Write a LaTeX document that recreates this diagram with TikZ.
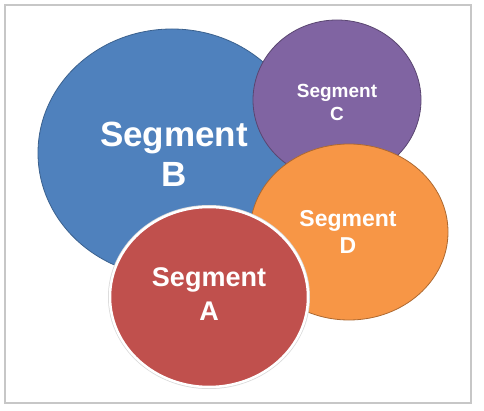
\documentclass[tikz,border=0pt]{standalone}
\usepackage{fontspec}
\setmainfont{Liberation Sans}
\usetikzlibrary{positioning}
\definecolor{segblue}{HTML}{4F81BD}
\definecolor{segpurple}{HTML}{8064A2}
\definecolor{segorange}{HTML}{F79646}
\definecolor{segred}{HTML}{C0504D}
\begin{document}
\begin{tikzpicture}[x=1pt,y=-1pt,
  seglabel/.style={text=white,align=center,inner sep=0pt}]
\useasboundingbox (0,0) rectangle (484,411);
\draw[fill=white,draw=black!22,line width=1.5pt] (5,5) rectangle (471,403);
\draw[fill=segblue,draw=segblue!75!black,line width=0.8pt] (172,153) ellipse (134 and 124);
\draw[fill=segpurple,draw=segpurple!70!black,line width=0.8pt] (337,100) ellipse (84 and 80);
\draw[fill=segorange,draw=segorange!70!black,line width=0.8pt] (349,232) ellipse (99 and 88);
\draw[draw=black!15,line width=4pt] (209,297) ellipse (99 and 90);
\draw[fill=segred,draw=white,line width=2.5pt] (209,297) ellipse (99 and 90);

\node[seglabel,font=\fontsize{35}{40}\selectfont\bfseries] (segB) at (174,154) {Segment\\B};
\node[seglabel,font=\fontsize{19}{23}\selectfont\bfseries] (segC) at (337,102.5) {Segment\\C};
\node[seglabel,font=\fontsize{23}{27}\selectfont\bfseries] (segD) at (348,231.5) {Segment\\D};
\node[seglabel,font=\fontsize{27}{34}\selectfont\bfseries] (segA) at (209,294) {Segment\\A};
\end{tikzpicture}
\end{document}
